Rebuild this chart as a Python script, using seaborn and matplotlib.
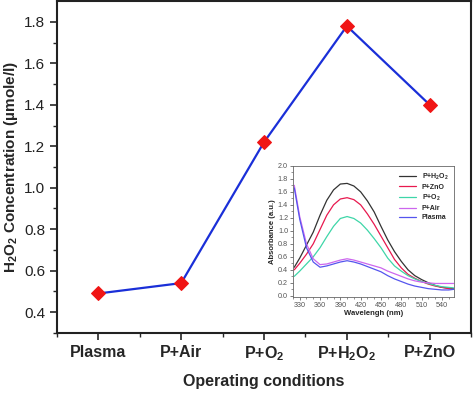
import numpy as np
import pandas as pd
import seaborn as sns
import matplotlib.pyplot as plt

# main panel data
conditions = ['Plasma', 'P+Air', 'P+O$_2$', 'P+H$_2$O$_2$', 'P+ZnO']
h2o2_conc = [0.49, 0.54, 1.22, 1.78, 1.40]

# inset: absorbance spectra
wavelength = [322, 330, 340, 350, 360, 370, 380, 390, 400, 410, 420, 430, 440,
              450, 460, 470, 480, 490, 500, 510, 520, 530, 540, 550, 558]
abs_h2o2 = [0.44, 0.58, 0.78, 0.98, 1.24, 1.47, 1.63, 1.72, 1.73, 1.69, 1.60, 1.46, 1.29,
            1.07, 0.86, 0.68, 0.53, 0.40, 0.31, 0.25, 0.20, 0.16, 0.13, 0.12, 0.11]
abs_zno = [0.40, 0.50, 0.64, 0.80, 1.02, 1.24, 1.40, 1.49, 1.51, 1.48, 1.40, 1.26, 1.10,
           0.92, 0.74, 0.56, 0.43, 0.33, 0.27, 0.22, 0.18, 0.15, 0.13, 0.11, 0.10]
abs_o2 = [0.30, 0.38, 0.49, 0.60, 0.74, 0.91, 1.07, 1.19, 1.22, 1.19, 1.12, 1.01, 0.88,
          0.74, 0.58, 0.46, 0.38, 0.31, 0.26, 0.22, 0.19, 0.16, 0.14, 0.13, 0.12]
abs_air = [1.70, 1.22, 0.80, 0.57, 0.48, 0.49, 0.52, 0.55, 0.57, 0.55, 0.52, 0.49, 0.46,
           0.43, 0.38, 0.34, 0.30, 0.26, 0.23, 0.21, 0.20, 0.19, 0.19, 0.19, 0.19]
abs_plasma = [1.66, 1.18, 0.74, 0.52, 0.44, 0.46, 0.49, 0.52, 0.54, 0.52, 0.49, 0.45, 0.41,
              0.37, 0.31, 0.26, 0.22, 0.18, 0.15, 0.13, 0.11, 0.10, 0.09, 0.09, 0.10]
spec_names = ['P+H$_2$O$_2$', 'P+ZnO', 'P+O$_2$', 'P+Air', 'Plasma']
spec_colors = ['#333333', '#e8194f', '#3ed6a8', '#cc66ee', '#5555ee']

sns.set_style('ticks')
plt.rcParams['font.family'] = ['Liberation Sans', 'DejaVu Sans']
plt.rcParams['mathtext.fontset'] = 'custom'
plt.rcParams['mathtext.rm'] = 'Liberation Sans'
plt.rcParams['mathtext.bf'] = 'Liberation Sans:bold'
plt.rcParams['mathtext.default'] = 'bf'

fig = plt.figure(figsize=(4.74, 3.93), dpi=100)
ax = fig.add_axes([0.120, 0.153, 0.874, 0.844])

main_df = pd.DataFrame({'cond': conditions, 'conc': h2o2_conc})
sns.lineplot(data=main_df, x='cond', y='conc', sort=False, ax=ax,
             color='#1a2fd8', linewidth=1.6, marker='D', markersize=7,
             markerfacecolor='#f01515', markeredgecolor='#f01515')

ax.set_xlim(-0.5, 4.5)
ax.set_ylim(0.3, 1.9)
ax.set_yticks(np.arange(0.4, 1.81, 0.2))
ax.set_yticks(np.arange(0.3, 1.9, 0.1), minor=True)
ax.set_xticks(np.arange(-0.5, 4.6, 0.5), minor=True)
ax.tick_params(axis='both', which='major', direction='out', length=5, width=1.2, labelsize=11)
ax.tick_params(axis='both', which='minor', direction='out', length=3, width=1.0)
ax.tick_params(axis='y', labelcolor='#222222')
for lbl in ax.get_xticklabels():
    lbl.set_fontweight('bold')
    lbl.set_fontsize(11.5)
ax.set_xlabel('Operating conditions', fontsize=11.5, fontweight='bold', labelpad=8)
ax.set_ylabel('H$_2$O$_2$ Concentration (\u00b5mole/l)', fontsize=11, fontweight='bold', labelpad=3)
for s in ax.spines.values():
    s.set_linewidth(1.5)
    s.set_color('#222222')

# inset spectra
ins = fig.add_axes([0.618, 0.244, 0.340, 0.334])
spec_df = pd.DataFrame({
    'wl': wavelength * 5,
    'abs': abs_h2o2 + abs_zno + abs_o2 + abs_air + abs_plasma,
    'sample': sum([[n] * len(wavelength) for n in spec_names], []),
})
sns.lineplot(data=spec_df, x='wl', y='abs', hue='sample', hue_order=spec_names,
             palette=spec_colors, linewidth=0.9, ax=ins)
ins.set_xlim(322, 558)
ins.set_ylim(-0.02, 2.0)
ins.set_xticks(np.arange(330, 541, 30))
ins.set_xticks(np.arange(320, 560, 10), minor=True)
ins.set_yticks(np.arange(0, 2.01, 0.2))
ins.set_yticks(np.arange(0, 2.01, 0.1), minor=True)
ins.tick_params(axis='both', which='major', direction='out', length=2, width=0.6,
                labelsize=5.2, labelcolor='#555555', pad=1.5, color='#666666')
ins.tick_params(axis='both', which='minor', direction='out', length=1.2, width=0.5, color='#666666')
ins.set_xlabel('Wavelengh (nm)', fontsize=5.5, fontweight='bold', labelpad=1)
ins.set_ylabel('Absorbance (a.u.)', fontsize=5.5, fontweight='bold', labelpad=1)
for s in ins.spines.values():
    s.set_linewidth(0.6)
    s.set_color('#666666')
leg = ins.legend(loc='upper right', frameon=False, fontsize=5, handlelength=2.4,
                 labelspacing=0.3, borderaxespad=0.4, handletextpad=0.8)
for t in leg.get_texts():
    t.set_fontweight('bold')

fig.savefig('out.png', dpi=100)
